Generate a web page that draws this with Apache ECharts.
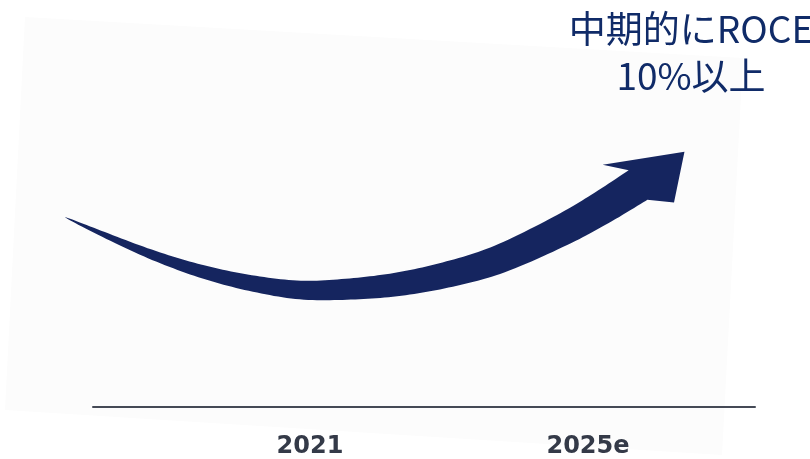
<!DOCTYPE html>
<html>
<head>
<meta charset="utf-8">
<script src="https://cdn.jsdelivr.net/npm/echarts@6/dist/echarts.min.js"></script>
<style>
  html, body { margin: 0; padding: 0; background: #fff; }
  #chart { width: 810px; height: 459px; }
</style>
</head>
<body>
<div id="chart"></div>
<script>
// x-axis labels and where they sit on the year scale
const categories = ['2021', '2025e']
const categoryYears = [2021, 2025]

// centre line of the trend arrow (year, index level)
const arrowX = [2017.47, 2017.98, 2018.70, 2019.42, 2020.14, 2020.86, 2021.58, 2022.29, 2023.01, 2023.73, 2024.60, 2025.17, 2025.72]
const arrowY = [47.5, 43.5, 38.25, 34, 31, 29.25, 29.5, 30.75, 33.25, 37, 44, 49.5, 55.5]

const headline = '中期的にROCE\n10%以上'

const NAVY = '#15255f'
const SHAFT_W = 35

const chart = echarts.init(document.getElementById('chart'))

// catmull-rom sampling so the shaft edges come out smooth
function sampleCurve(pts, steps) {
  const out = []
  for (let i = 0; i < pts.length - 1; i++) {
    const p0 = pts[Math.max(i - 1, 0)], p1 = pts[i], p2 = pts[i + 1], p3 = pts[Math.min(i + 2, pts.length - 1)]
    for (let k = 0; k < steps; k++) {
      const t = k / steps, t2 = t * t, t3 = t2 * t
      out.push([0, 1].map(j => 0.5 * (2 * p1[j] + (-p0[j] + p2[j]) * t +
        (2 * p0[j] - 5 * p1[j] + 4 * p2[j] - p3[j]) * t2 +
        (-p0[j] + 3 * p1[j] - 3 * p2[j] + p3[j]) * t3)))
    }
  }
  out.push(pts[pts.length - 1])
  return out
}

function renderArrow(params, api) {
  if (params.dataIndex !== 0) return null
  const pts = sampleCurve(arrowX.map((x, i) => api.coord([x, arrowY[i]])), 12)
  const len = [0]
  for (let i = 1; i < pts.length; i++) {
    len.push(len[i - 1] + Math.hypot(pts[i][0] - pts[i - 1][0], pts[i][1] - pts[i - 1][1]))
  }
  const total = len[len.length - 1]
  const upper = []
  const lower = []
  pts.forEach((p, i) => {
    const a = pts[Math.max(i - 1, 0)]
    const b = pts[Math.min(i + 1, pts.length - 1)]
    let dx = b[0] - a[0], dy = b[1] - a[1]
    const d = Math.hypot(dx, dy)
    dx /= d; dy /= d
    const half = SHAFT_W / 2 * Math.pow(len[i] / total, 0.7)
    upper.push([p[0] + dy * half, p[1] - dx * half])
    lower.push([p[0] - dy * half, p[1] + dx * half])
  })

  // arrow head, built on the direction of the last stretch
  const E = pts[pts.length - 1]
  const P = pts[pts.length - 4]
  let dx = E[0] - P[0], dy = E[1] - P[1]
  const dl = Math.hypot(dx, dy)
  dx /= dl; dy /= dl
  const nx = -dy, ny = dx
  const at = (s, t) => [E[0] + dx * s + nx * t, E[1] + dy * s + ny * t]
  const head = [at(-19, -36), at(57, -3), at(21, 34)]

  return {
    type: 'polygon',
    shape: { points: upper.concat(head, lower.slice().reverse()) },
    style: { fill: NAVY }
  }
}

chart.setOption({
  animation: false,
  title: {
    text: headline,
    left: 686,
    top: 0,
    textAlign: 'center',
    textStyle: {
      fontFamily: 'Noto Sans CJK JP',
      fontWeight: 'normal',
      fontSize: 37,
      lineHeight: 47,
      color: '#102b68'
    }
  },
  graphic: [
    {
      type: 'polygon',
      z: -10,
      shape: { points: [[25, 17], [743, 58], [722, 455], [5, 410]] },
      style: { fill: '#fcfcfc' }
    }
  ],
  grid: { left: 93, right: 55, top: 7, bottom: 52 },
  xAxis: {
    type: 'value',
    min: 2017.878,
    max: 2027.403,
    splitLine: { show: false },
    axisTick: { show: false },
    axisLine: { show: true, onZero: false, lineStyle: { color: '#454a56', width: 2 } },
    axisLabel: {
      customValues: categoryYears,
      formatter: v => categories[categoryYears.indexOf(v)] || '',
      margin: 28,
      fontFamily: 'DejaVu Sans',
      fontWeight: 'bold',
      fontSize: 24,
      color: '#343a48'
    }
  },
  yAxis: {
    type: 'value',
    min: 0,
    max: 100,
    show: false
  },
  series: [
    {
      type: 'custom',
      clip: false,
      renderItem: renderArrow,
      data: arrowX.map((x, i) => [x, arrowY[i]])
    }
  ]
})
</script>
</body>
</html>
